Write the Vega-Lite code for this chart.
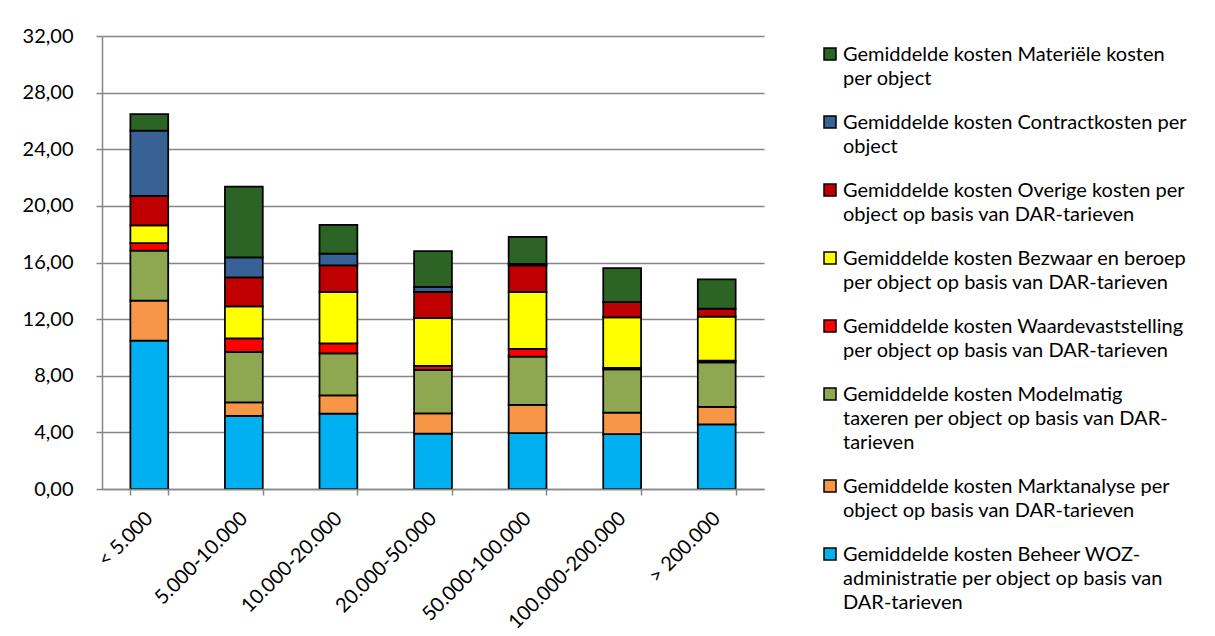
{
  "$schema": "https://vega.github.io/schema/vega-lite/v6.json",
  "width": 662,
  "height": 453,
  "autosize": {"type": "none"},
  "padding": {"left": 102, "top": 36, "right": 451, "bottom": 147},
  "background": "white",
  "config": {
    "font": "Lato",
    "view": {"stroke": null},
    "axis": {"labelFont": "Lato", "labelFontSize": 20, "labelColor": "#000000", "domainColor": "#868686", "tickColor": "#868686", "gridColor": "#868686", "domainWidth": 1.5, "tickWidth": 1.5, "gridWidth": 1.5}
  },
  "data": {"values": [
    {"cat": "< 5.000", "k": 1, "serie": "Gemiddelde kosten Beheer WOZ-administratie per object op basis van DAR-tarieven", "v": 10.48},
    {"cat": "< 5.000", "k": 2, "serie": "Gemiddelde kosten Marktanalyse per object op basis van DAR-tarieven", "v": 2.82},
    {"cat": "< 5.000", "k": 3, "serie": "Gemiddelde kosten Modelmatig taxeren per object op basis van DAR-tarieven", "v": 3.54},
    {"cat": "< 5.000", "k": 4, "serie": "Gemiddelde kosten Waardevaststelling per object op basis van DAR-tarieven", "v": 0.52},
    {"cat": "< 5.000", "k": 5, "serie": "Gemiddelde kosten Bezwaar en beroep per object op basis van DAR-tarieven", "v": 1.27},
    {"cat": "< 5.000", "k": 6, "serie": "Gemiddelde kosten Overige kosten per object op basis van DAR-tarieven", "v": 2.07},
    {"cat": "< 5.000", "k": 7, "serie": "Gemiddelde kosten Contractkosten per object", "v": 4.61},
    {"cat": "< 5.000", "k": 8, "serie": "Gemiddelde kosten Materiële kosten per object", "v": 1.18},

    {"cat": "5.000-10.000", "k": 1, "serie": "Gemiddelde kosten Beheer WOZ-administratie per object op basis van DAR-tarieven", "v": 5.16},
    {"cat": "5.000-10.000", "k": 2, "serie": "Gemiddelde kosten Marktanalyse per object op basis van DAR-tarieven", "v": 0.96},
    {"cat": "5.000-10.000", "k": 3, "serie": "Gemiddelde kosten Modelmatig taxeren per object op basis van DAR-tarieven", "v": 3.56},
    {"cat": "5.000-10.000", "k": 4, "serie": "Gemiddelde kosten Waardevaststelling per object op basis van DAR-tarieven", "v": 0.96},
    {"cat": "5.000-10.000", "k": 5, "serie": "Gemiddelde kosten Bezwaar en beroep per object op basis van DAR-tarieven", "v": 2.26},
    {"cat": "5.000-10.000", "k": 6, "serie": "Gemiddelde kosten Overige kosten per object op basis van DAR-tarieven", "v": 2.05},
    {"cat": "5.000-10.000", "k": 7, "serie": "Gemiddelde kosten Contractkosten per object", "v": 1.42},
    {"cat": "5.000-10.000", "k": 8, "serie": "Gemiddelde kosten Materiële kosten per object", "v": 4.99},

    {"cat": "10.000-20.000", "k": 1, "serie": "Gemiddelde kosten Beheer WOZ-administratie per object op basis van DAR-tarieven", "v": 5.32},
    {"cat": "10.000-20.000", "k": 2, "serie": "Gemiddelde kosten Marktanalyse per object op basis van DAR-tarieven", "v": 1.30},
    {"cat": "10.000-20.000", "k": 3, "serie": "Gemiddelde kosten Modelmatig taxeren per object op basis van DAR-tarieven", "v": 2.96},
    {"cat": "10.000-20.000", "k": 4, "serie": "Gemiddelde kosten Waardevaststelling per object op basis van DAR-tarieven", "v": 0.71},
    {"cat": "10.000-20.000", "k": 5, "serie": "Gemiddelde kosten Bezwaar en beroep per object op basis van DAR-tarieven", "v": 3.63},
    {"cat": "10.000-20.000", "k": 6, "serie": "Gemiddelde kosten Overige kosten per object op basis van DAR-tarieven", "v": 1.88},
    {"cat": "10.000-20.000", "k": 7, "serie": "Gemiddelde kosten Contractkosten per object", "v": 0.82},
    {"cat": "10.000-20.000", "k": 8, "serie": "Gemiddelde kosten Materiële kosten per object", "v": 2.03},

    {"cat": "20.000-50.000", "k": 1, "serie": "Gemiddelde kosten Beheer WOZ-administratie per object op basis van DAR-tarieven", "v": 3.91},
    {"cat": "20.000-50.000", "k": 2, "serie": "Gemiddelde kosten Marktanalyse per object op basis van DAR-tarieven", "v": 1.44},
    {"cat": "20.000-50.000", "k": 3, "serie": "Gemiddelde kosten Modelmatig taxeren per object op basis van DAR-tarieven", "v": 3.06},
    {"cat": "20.000-50.000", "k": 4, "serie": "Gemiddelde kosten Waardevaststelling per object op basis van DAR-tarieven", "v": 0.28},
    {"cat": "20.000-50.000", "k": 5, "serie": "Gemiddelde kosten Bezwaar en beroep per object op basis van DAR-tarieven", "v": 3.39},
    {"cat": "20.000-50.000", "k": 6, "serie": "Gemiddelde kosten Overige kosten per object op basis van DAR-tarieven", "v": 1.84},
    {"cat": "20.000-50.000", "k": 7, "serie": "Gemiddelde kosten Contractkosten per object", "v": 0.35},
    {"cat": "20.000-50.000", "k": 8, "serie": "Gemiddelde kosten Materiële kosten per object", "v": 2.54},

    {"cat": "50.000-100.000", "k": 1, "serie": "Gemiddelde kosten Beheer WOZ-administratie per object op basis van DAR-tarieven", "v": 3.94},
    {"cat": "50.000-100.000", "k": 2, "serie": "Gemiddelde kosten Marktanalyse per object op basis van DAR-tarieven", "v": 2.01},
    {"cat": "50.000-100.000", "k": 3, "serie": "Gemiddelde kosten Modelmatig taxeren per object op basis van DAR-tarieven", "v": 3.40},
    {"cat": "50.000-100.000", "k": 4, "serie": "Gemiddelde kosten Waardevaststelling per object op basis van DAR-tarieven", "v": 0.54},
    {"cat": "50.000-100.000", "k": 5, "serie": "Gemiddelde kosten Bezwaar en beroep per object op basis van DAR-tarieven", "v": 4.03},
    {"cat": "50.000-100.000", "k": 6, "serie": "Gemiddelde kosten Overige kosten per object op basis van DAR-tarieven", "v": 1.88},
    {"cat": "50.000-100.000", "k": 7, "serie": "Gemiddelde kosten Contractkosten per object", "v": 0.10},
    {"cat": "50.000-100.000", "k": 8, "serie": "Gemiddelde kosten Materiële kosten per object", "v": 1.91},

    {"cat": "100.000-200.000", "k": 1, "serie": "Gemiddelde kosten Beheer WOZ-administratie per object op basis van DAR-tarieven", "v": 3.87},
    {"cat": "100.000-200.000", "k": 2, "serie": "Gemiddelde kosten Marktanalyse per object op basis van DAR-tarieven", "v": 1.52},
    {"cat": "100.000-200.000", "k": 3, "serie": "Gemiddelde kosten Modelmatig taxeren per object op basis van DAR-tarieven", "v": 3.06},
    {"cat": "100.000-200.000", "k": 4, "serie": "Gemiddelde kosten Waardevaststelling per object op basis van DAR-tarieven", "v": 0.10},
    {"cat": "100.000-200.000", "k": 5, "serie": "Gemiddelde kosten Bezwaar en beroep per object op basis van DAR-tarieven", "v": 3.58},
    {"cat": "100.000-200.000", "k": 6, "serie": "Gemiddelde kosten Overige kosten per object op basis van DAR-tarieven", "v": 1.07},
    {"cat": "100.000-200.000", "k": 7, "serie": "Gemiddelde kosten Contractkosten per object", "v": 0.0},
    {"cat": "100.000-200.000", "k": 8, "serie": "Gemiddelde kosten Materiële kosten per object", "v": 2.40},

    {"cat": "> 200.000", "k": 1, "serie": "Gemiddelde kosten Beheer WOZ-administratie per object op basis van DAR-tarieven", "v": 4.56},
    {"cat": "> 200.000", "k": 2, "serie": "Gemiddelde kosten Marktanalyse per object op basis van DAR-tarieven", "v": 1.25},
    {"cat": "> 200.000", "k": 3, "serie": "Gemiddelde kosten Modelmatig taxeren per object op basis van DAR-tarieven", "v": 3.14},
    {"cat": "> 200.000", "k": 4, "serie": "Gemiddelde kosten Waardevaststelling per object op basis van DAR-tarieven", "v": 0.12},
    {"cat": "> 200.000", "k": 5, "serie": "Gemiddelde kosten Bezwaar en beroep per object op basis van DAR-tarieven", "v": 3.10},
    {"cat": "> 200.000", "k": 6, "serie": "Gemiddelde kosten Overige kosten per object op basis van DAR-tarieven", "v": 0.57},
    {"cat": "> 200.000", "k": 7, "serie": "Gemiddelde kosten Contractkosten per object", "v": 0.0},
    {"cat": "> 200.000", "k": 8, "serie": "Gemiddelde kosten Materiële kosten per object", "v": 2.07}
  ]},
  "mark": {"type": "bar", "stroke": "#000000", "strokeWidth": 1.75},
  "encoding": {
    "x": {
      "field": "cat", "type": "nominal", "sort": null, "title": null,
      "scale": {"paddingInner": 0.6, "paddingOuter": 0.3},
      "axis": {"labelAngle": -45, "labelAlign": "right", "labelBaseline": "middle", "tickBand": "extent", "tickSize": 6, "labelPadding": 20, "grid": false, "zindex": 1}
    },
    "y": {
      "field": "v", "type": "quantitative", "stack": "zero", "title": null,
      "scale": {"domain": [0, 32], "nice": false},
      "axis": {"values": [0, 4, 8, 12, 16, 20, 24, 28, 32], "labelExpr": "replace(format(datum.value, '.2f'), '.', ',')", "tickSize": 6, "labelPadding": 23, "grid": true}
    },
    "order": {"field": "k", "type": "quantitative", "sort": "ascending"},
    "color": {
      "field": "serie", "type": "nominal", "title": null,
      "scale": {
        "domain": [
          "Gemiddelde kosten Materiële kosten per object",
          "Gemiddelde kosten Contractkosten per object",
          "Gemiddelde kosten Overige kosten per object op basis van DAR-tarieven",
          "Gemiddelde kosten Bezwaar en beroep per object op basis van DAR-tarieven",
          "Gemiddelde kosten Waardevaststelling per object op basis van DAR-tarieven",
          "Gemiddelde kosten Modelmatig taxeren per object op basis van DAR-tarieven",
          "Gemiddelde kosten Marktanalyse per object op basis van DAR-tarieven",
          "Gemiddelde kosten Beheer WOZ-administratie per object op basis van DAR-tarieven"
        ],
        "range": ["#2B6424", "#386196", "#C00000", "#FFFF00", "#FF0000", "#8DA850", "#F79646", "#00B0F0"]
      },
      "legend": {
        "orient": "none", "legendX": 718, "legendY": 8,
        "symbolType": "square", "symbolSize": 144, "symbolStrokeColor": "#000000", "symbolStrokeWidth": 1.5, "symbolOpacity": 1,
        "labelFont": "Lato", "labelFontSize": 20, "labelColor": "#000000", "labelLimit": 400, "labelOffset": 3,
        "labelBaseline": "alphabetic", "rowPadding": 23,
        "labelExpr": "({'Gemiddelde kosten Materiële kosten per object': ['Gemiddelde kosten Materiële kosten', 'per object'], 'Gemiddelde kosten Contractkosten per object': ['Gemiddelde kosten Contractkosten per', 'object'], 'Gemiddelde kosten Overige kosten per object op basis van DAR-tarieven': ['Gemiddelde kosten Overige kosten per', 'object op basis van DAR-tarieven'], 'Gemiddelde kosten Bezwaar en beroep per object op basis van DAR-tarieven': ['Gemiddelde kosten Bezwaar en beroep', 'per object op basis van DAR-tarieven'], 'Gemiddelde kosten Waardevaststelling per object op basis van DAR-tarieven': ['Gemiddelde kosten Waardevaststelling', 'per object op basis van DAR-tarieven'], 'Gemiddelde kosten Modelmatig taxeren per object op basis van DAR-tarieven': ['Gemiddelde kosten Modelmatig', 'taxeren per object op basis van DAR-', 'tarieven'], 'Gemiddelde kosten Marktanalyse per object op basis van DAR-tarieven': ['Gemiddelde kosten Marktanalyse per', 'object op basis van DAR-tarieven'], 'Gemiddelde kosten Beheer WOZ-administratie per object op basis van DAR-tarieven': ['Gemiddelde kosten Beheer WOZ-', 'administratie per object op basis van', 'DAR-tarieven']})[datum.label]",
        "encode": {"labels": {"update": {"lineHeight": {"value": 24}, "dy": {"value": 7}}}}
      }
    }
  }
}
